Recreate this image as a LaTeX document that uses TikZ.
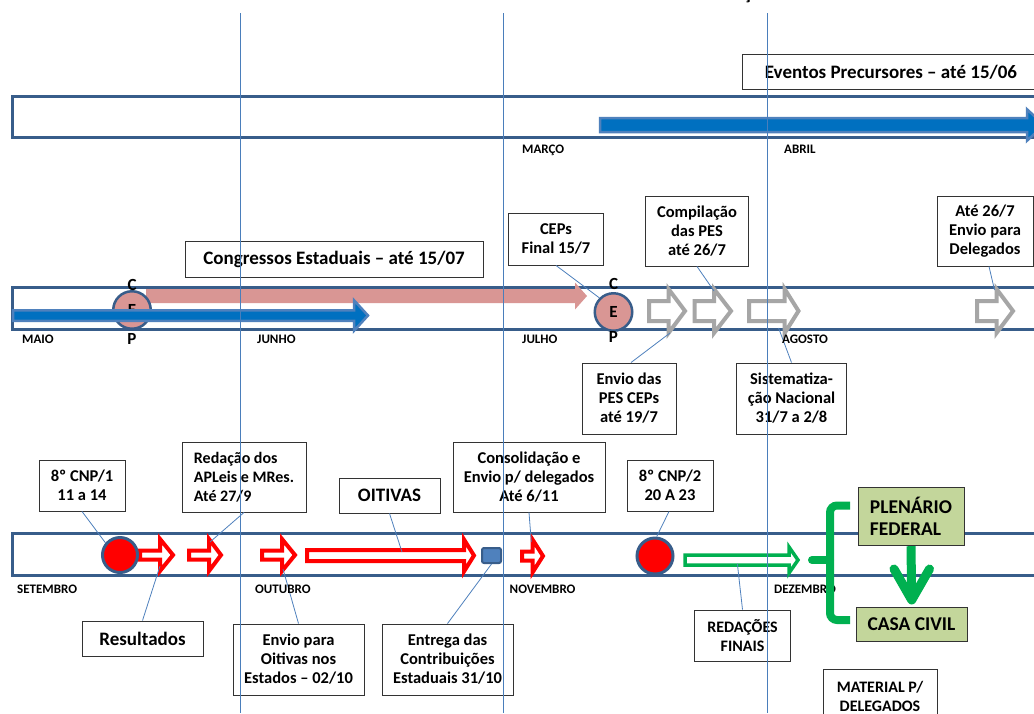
\documentclass[tikz,border=0pt]{standalone}
\usepackage{fontspec}
\setmainfont{Carlito}
\definecolor{tl}{RGB}{56,93,138}
\definecolor{vl}{RGB}{74,126,187}
\definecolor{blueA}{RGB}{0,112,192}
\definecolor{blueO}{RGB}{79,129,189}
\definecolor{pinkA}{RGB}{217,150,148}
\definecolor{grayA}{RGB}{166,166,166}
\definecolor{greenA}{RGB}{0,176,80}
\definecolor{greenBox}{RGB}{195,214,155}
\tikzset{
 tlbar/.style={draw=tl, line width=3pt},
 vline/.style={draw=vl, line width=1pt},
 box/.style={draw=black!80, line width=0.9pt, fill=white, align=center, inner sep=0pt, font=\bfseries\fontsize{16.5}{19}\selectfont},
 bigbox/.style={box, font=\bfseries\fontsize{19}{22}\selectfont},
 gbox/.style={box, fill=greenBox, font=\bfseries\fontsize{19.5}{21.5}\selectfont},
 mlab/.style={anchor=base west, inner sep=0pt, font=\bfseries\fontsize{13}{15}\selectfont},
 conn/.style={draw=blueO, line width=0.8pt},
 pics/barrow/.style args={#1/#2/#3/#4}{code={\path[pic actions] (0,-#3) -- (#2,-#3) -- (#2,-#4) -- (#1,0) -- (#2,#4) -- (#2,#3) -- (0,#3) -- cycle;}},
 redar/.style={draw=red, fill=white, line width=4pt},
 grayar/.style={draw=grayA, fill=white, line width=4pt},
 greenar/.style={draw=greenA, fill=white, line width=3.5pt},
 bluear/.style={draw=blueO, fill=blueA, line width=2.5pt},
 cepc/.style={circle, draw=tl, fill=pinkA, line width=2.5pt, minimum size=37.5pt, inner sep=0pt},
 redc/.style={circle, draw=tl, fill=red, line width=3pt, minimum size=35pt, inner sep=0pt},
 cepl/.style={inner sep=0pt, font=\bfseries\fontsize{17}{20}\selectfont},
 gline/.style={draw=greenA, line width=8pt},
}
\begin{document}
\begin{tikzpicture}[x=1pt,y=-1pt]
\useasboundingbox (0,0) rectangle (1034,713);
\clip (0,0) rectangle (1034,713);
\fill[white] (0,0) rectangle (1034,713);
% cut-off title fragment
\node[anchor=base, inner sep=0pt, font=\bfseries\fontsize{20}{24}\selectfont] (ttl) at (747.5,-0.5) {ç};

% ---------- row 1 ----------
\draw[tlbar] (1045,96) -- (12,96) -- (12,137) -- (1045,137);
\pic[bluear] at (600,125) {barrow=444/427/7/15.7};
\node[bigbox, minimum width=297pt, minimum height=35pt] (evt) at (891,72) {Eventos Precursores – até 15/06};
\node[mlab] (mar) at (522,153) {MARÇO};
\node[mlab] (abr) at (784,153) {ABRIL};

% ---------- row 2 ----------
\draw[tlbar] (1045,287) -- (12,287) -- (12,329) -- (1045,329);
\pic[fill=pinkA] at (146,296) {barrow=441/429/7/13.5};
\node[cepc] (cep1) at (132,310) {};
\node[cepl] (cep1e) at (cep1) {E};
\pic[bluear] at (13,315.5) {barrow=355/341/5.25/15.25};
\node[cepl] (cep1c) at (132,285) {C};
\node[cepl] (cep1p) at (132,339) {P};
\node[cepc] (cep2) at (613.5,312) {};
\node[cepl] (cep2e) at (cep2) {E};
\node[cepl] (cep2c) at (613.5,283.5) {C};
\node[cepl] (cep2p) at (613.5,337) {P};
\pic[grayar] at (649,311) {barrow=36/19.5/10/22};
\pic[grayar] at (694.5,311) {barrow=36.5/19.5/10/22};
\pic[grayar] at (749,311) {barrow=49.5/35.7/10/22};
\pic[grayar] at (977,311) {barrow=36/19.5/10/22};
\coordinate (g1bot) at (670,333);
\coordinate (g2top) at (714,291);
\coordinate (g3bot) at (778.6,328);
\coordinate (g4top) at (994.5,290);

\node[bigbox, minimum width=298pt, minimum height=36pt] (cong) at (334,259) {Congressos Estaduais – até 15/07};
\node[box, minimum width=95pt, minimum height=52pt] (ceps) at (556,239) {CEPs\\Final 15/7};
\node[box, minimum width=103pt, minimum height=70pt] (comp) at (697,231) {Compilação\\das PES\\até 26/7};
\node[box, minimum width=96pt, minimum height=70pt] (ate) at (985,231) {Até 26/7\\Envio para\\Delegados};
\node[box, minimum width=94pt, minimum height=71pt] (envpes) at (629,398.5) {Envio das\\PES CEPs\\até 19/7};
\node[box, minimum width=110pt, minimum height=71pt] (sist) at (791.5,398.5) {Sistematiza-\\ção Nacional\\31/7 a 2/8};
\draw[conn] (ceps.south) -- (cep2.135);
\draw[conn] (comp.south) -- (g2top);
\draw[conn] ([xshift=4pt]ate.south) -- (g4top);
\draw[conn] ([xshift=2pt]envpes.north) -- (g1bot);
\draw[conn] (sist.north) -- (g3bot);
\node[mlab] (mai) at (22,343) {MAIO};
\node[mlab] (jun) at (257,343) {JUNHO};
\node[mlab] (jul) at (522,343) {JULHO};
\node[mlab] (ago) at (782,343) {AGOSTO};

% ---------- row 3 ----------
\draw[tlbar] (1045,533) -- (12,533) -- (12,575) -- (1045,575);
\pic[redar] at (140,555) {barrow=33/20/4.5/16};
\pic[redar] at (189,555) {barrow=32/20/4.5/16};
\pic[redar] at (262,555) {barrow=33/20/4.5/16};
\pic[redar] at (307,555.5) {barrow=167/157/5.5/16};
\pic[redar] at (522,556) {barrow=21/10.5/4.5/16.5};
\node[redc] (rc1) at (120,555) {};
\node[redc, minimum size=36pt] (rc2) at (655,556) {};
\node[draw=tl, fill=blueO, line width=2pt, rounded corners=2pt, minimum width=19pt, minimum height=15pt, inner sep=0pt] (sq) at (491.5,555.5) {};
\pic[greenar] at (685,560) {barrow=113/104/5/13};
\coordinate (a1bot) at (160,566);
\coordinate (a2top) at (210,542);
\coordinate (a3bot) at (283,569);
\coordinate (a4mid) at (402,552);
\coordinate (a5top) at (531.3,542);
\coordinate (grmid) at (737.4,564);

\node[box, minimum width=86pt, minimum height=51pt] (cnp1) at (82,485.5) {8º CNP/1\\11 a 14};
\node[box, align=left, minimum width=124pt, minimum height=70pt, font=\bfseries\fontsize{16}{19}\selectfont] (red) at (244,477) {Redação dos\\APLeis e MRes.\\Até 27/9};
\node[bigbox, minimum width=101pt, minimum height=35pt] (oit) at (389.5,495.5) {OITIVAS};
\node[box, minimum width=152pt, minimum height=70pt] (cons) at (529,477) {Consolidação e\\Envio p/ delegados\\Até 6/11};
\node[box, minimum width=86pt, minimum height=51pt] (cnp2) at (670,485.5) {8º CNP/2\\20 A 23};
\node[bigbox, minimum width=121pt, minimum height=35pt] (res) at (142.5,638.5) {Resultados};
\node[box, minimum width=131pt, minimum height=71pt] (envoit) at (298.5,659.5) {Envio para\\Oitivas nos\\Estados – 02/10};
\node[box, minimum width=131pt, minimum height=71pt] (entr) at (447.5,659.5) {Entrega das\\Contribuições\\Estaduais 31/10};
\node[box, minimum width=96pt, minimum height=51pt, font=\bfseries\fontsize{16}{19}\selectfont] (redf) at (742.5,635.5) {REDAÇÕES\\FINAIS};
\node[box, anchor=north, minimum width=114pt, minimum height=54pt, font=\bfseries\fontsize{16}{18.5}\selectfont] (mat) at (880,669) {MATERIAL P/\\DELEGADOS};
\draw[conn] (cnp1.south) -- (rc1.140);
\draw[conn] (red.south) -- (a2top);
\draw[conn] (oit.south) -- (a4mid);
\draw[conn] ([xshift=0pt]cons.south) -- (a5top);
\draw[conn] ([xshift=-1pt]cnp2.south) -- (rc2.85);
\draw[conn] (res.north) -- (a1bot);
\draw[conn] (envoit.north) -- (a3bot);
\draw[conn] (entr.north) -- (sq.south);
\draw[conn] (redf.north) -- (grmid);
\node[mlab] (set) at (17,593) {SETEMBRO};
\node[mlab] (out) at (255,593) {OUTUBRO};
\node[mlab] (nov) at (509.5,593) {NOVEMBRO};
\node[mlab] (dez) at (774,593) {DEZEMBRO};

% green brace and final boxes
\draw[gline, rounded corners=7pt] (850,505.5) -- (830,505.5) -- (830,620) -- (850,620);
\draw[gline, line cap=round, rounded corners=5pt] (812,560) -- (830,560);
\node[gbox, align=left, minimum width=106pt, minimum height=58.5pt] (plen) at (911,516.5) {PLENÁRIO\\FEDERAL};
\node[gbox, minimum width=111pt, minimum height=34pt] (casa) at (911.5,624) {CASA CIVIL};
\coordinate (gtip) at (911.7,600);
\draw[draw=greenA, line width=9pt] (plen.south) -- (gtip);
\draw[draw=greenA, line width=9pt, line cap=round, line join=round] (894,569) -- (gtip) -- (929.5,569);

% vertical month separators
\draw[vline] (240,13) -- (240,713);
\draw[vline] (503.3,13) -- (503.3,713);
\draw[vline] (767.4,13) -- (767.4,713);
\end{tikzpicture}
\end{document}
